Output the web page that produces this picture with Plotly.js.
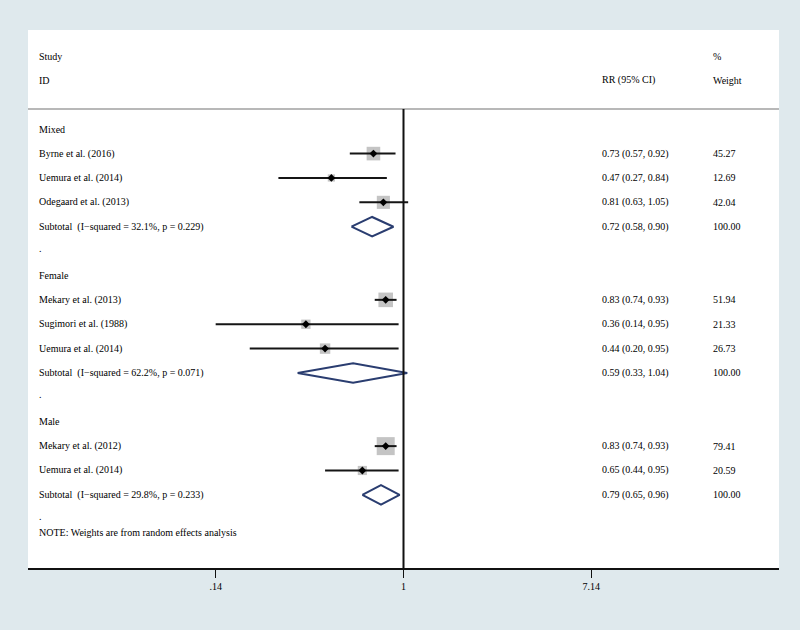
<!DOCTYPE html>
<html>
<head>
<meta charset="utf-8">
<script src="https://cdn.plot.ly/plotly-3.0.1.min.js"></script>
<style>html,body{margin:0;padding:0;background:#dfe9ed;}#chart{width:800px;height:630px;}</style>
</head>
<body>
<div id="chart"></div>
<script>
// ---- data ----
const groups = ['Mixed', 'Female', 'Male'];
const studies = ['Byrne et al. (2016)', 'Uemura et al. (2014)', 'Odegaard et al. (2013)',
                 'Mekary et al. (2013)', 'Sugimori et al. (1988)', 'Uemura et al. (2014)',
                 'Mekary et al. (2012)', 'Uemura et al. (2014)'];
const studyGroup = ['Mixed', 'Mixed', 'Mixed', 'Female', 'Female', 'Female', 'Male', 'Male'];
const rr = [0.73, 0.47, 0.81, 0.83, 0.36, 0.44, 0.83, 0.65];
const lo = [0.57, 0.27, 0.63, 0.74, 0.14, 0.20, 0.74, 0.44];
const hi = [0.92, 0.84, 1.05, 0.93, 0.95, 0.95, 0.93, 0.95];
const weights = [45.27, 12.69, 42.04, 51.94, 21.33, 26.73, 79.41, 20.59];
const subLabels = ['Subtotal  (I\u2212squared = 32.1%, p = 0.229)',
                   'Subtotal  (I\u2212squared = 62.2%, p = 0.071)',
                   'Subtotal  (I\u2212squared = 29.8%, p = 0.233)'];
const subRR = [0.72, 0.59, 0.79];
const subLo = [0.58, 0.33, 0.65];
const subHi = [0.90, 1.04, 0.96];
const subWeight = [100.00, 100.00, 100.00];
const tickVals = [0.14, 1, 7.14];
const tickText = ['.14', '1', '7.14'];
const note = 'NOTE: Weights are from random effects analysis';

// ---- layout of rows ----
const fmt = v => v.toFixed(2);
const font = {family: 'Liberation Serif, Times New Roman, serif', size: 10, color: '#000000'};
const xStudy = 0.012, xRR = 0.762, xW = 0.910;
const ann = [];
function txt(x, y, t) {
  ann.push({xref: 'paper', yref: 'y', x: x, y: y, text: t, showarrow: false,
            xanchor: 'left', yanchor: 'middle', font: font});
}
txt(xStudy, 0, 'Study'); txt(xStudy, 1, 'ID');
txt(xRR, 1, 'RR (95% CI)'); txt(xW, 0, '%'); txt(xW, 1, 'Weight');

const studyRow = [];
const subRow = [];
let r = 3;
groups.forEach((g, gi) => {
  txt(xStudy, r, g); r++;
  studies.forEach((s, i) => {
    if (studyGroup[i] !== g) return;
    studyRow[i] = r;
    txt(xStudy, r, s);
    txt(xRR, r, fmt(rr[i]) + ' (' + fmt(lo[i]) + ', ' + fmt(hi[i]) + ')');
    txt(xW, r, fmt(weights[i]));
    r++;
  });
  subRow[gi] = r;
  txt(xStudy, r, subLabels[gi]);
  txt(xRR, r, fmt(subRR[gi]) + ' (' + fmt(subLo[gi]) + ', ' + fmt(subHi[gi]) + ')');
  txt(xW, r, fmt(subWeight[gi]));
  r++;
  txt(xStudy, r - 0.12, '.');
  r++;
});
txt(xStudy, r - 1 + 0.55, note);

// ---- traces ----
const boxes = {x: rr, y: studyRow, type: 'scatter', mode: 'markers', hoverinfo: 'skip',
  marker: {symbol: 'square', color: '#ababab', size: weights.map(w => 2.02 * Math.sqrt(w)), line: {width: 0}}};
const ciX = [], ciY = [];
rr.forEach((v, i) => { ciX.push(lo[i], hi[i], null); ciY.push(studyRow[i], studyRow[i], null); });
const ci = {x: ciX, y: ciY, type: 'scatter', mode: 'lines', hoverinfo: 'skip',
  line: {color: '#151515', width: 2}};
const pts = {x: rr, y: studyRow, type: 'scatter', mode: 'markers', hoverinfo: 'skip',
  marker: {symbol: 'diamond', color: '#000', size: 6}};
const dX = [], dY = [];
const h = 0.4;
subRR.forEach((v, i) => {
  const y = subRow[i];
  dX.push(subLo[i], v, subHi[i], v, subLo[i], null);
  dY.push(y, y - h, y, y + h, y, null);
});
const diamonds = {x: dX, y: dY, type: 'scatter', mode: 'lines', hoverinfo: 'skip',
  line: {color: '#2a3d70', width: 2}};

const layout = {
  width: 800, height: 630,
  paper_bgcolor: '#dfe9ed', plot_bgcolor: '#ffffff',
  margin: {l: 28, r: 21, t: 30, b: 62},
  showlegend: false,
  xaxis: {type: 'log', range: [-1.707, 1.707], showgrid: false, zeroline: false,
    showline: true, linecolor: '#111', linewidth: 2,
    tickvals: tickVals, ticktext: tickText, ticks: 'outside', ticklen: 8, tickwidth: 1.5,
    tickcolor: '#111', tickfont: font, fixedrange: true},
  yaxis: {range: [21.0, -1.07], visible: false, showgrid: false, zeroline: false, fixedrange: true},
  shapes: [
    {type: 'line', xref: 'paper', yref: 'y', x0: 0, x1: 1, y0: 2.17, y1: 2.17,
     line: {color: '#a0a0a0', width: 1.5}},
    {type: 'line', xref: 'x', yref: 'y', x0: 1, x1: 1, y0: 2.17, y1: 21.0,
     line: {color: '#111', width: 2}}
  ],
  annotations: ann
};
Plotly.newPlot('chart', [boxes, ci, pts, diamonds], layout, {staticPlot: true, displayModeBar: false});
</script>
</body>
</html>
